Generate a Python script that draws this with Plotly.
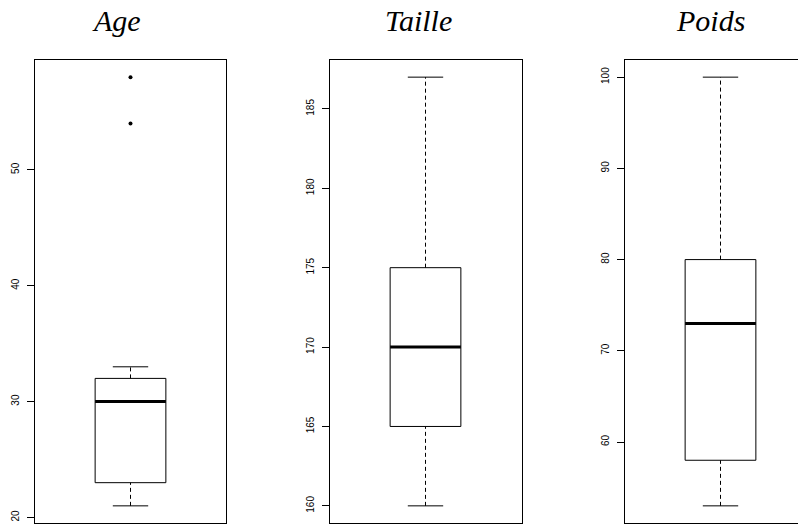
import plotly.graph_objects as go

# ---- data ----
variables = ["Age", "Taille", "Poids"]
lower_whisker = [21, 160, 53]
q1 = [23, 165, 58]
median = [30, 170, 73]
q3 = [32, 175, 80]
upper_whisker = [33, 187, 100]
outliers = [[54, 58], [], []]
tick_values = [[20, 30, 40, 50],
               [160, 165, 170, 175, 180, 185],
               [60, 70, 80, 90, 100]]

# ---- layout / style (page body adds an 8px margin, so the figure is 8px smaller) ----
OFF = 8
W, H = 806 - OFF, 526 - OFF
panel_left = [35 - OFF, 330 - OFF, 625 - OFF]
panel_right = [226 - OFF, 522 - OFF, 806 - OFF]
plot_top, plot_bottom = 60 - OFF, 523 - OFF
title_cx = [116 - OFF, 418 - OFF, 710 - OFF]
title_bottom = 39 - OFF
px_per_unit = 191 / 1.08
box_half = 0.2
staple_half = 0.1

fig = go.Figure()

for i, name in enumerate(variables):
    xa = "x" if i == 0 else f"x{i+1}"
    ya = "y" if i == 0 else f"y{i+1}"
    common = dict(xaxis=xa, yaxis=ya, showlegend=False, hoverinfo="skip")
    # box
    fig.add_trace(go.Scatter(
        x=[-box_half, box_half, box_half, -box_half, -box_half],
        y=[q1[i], q1[i], q3[i], q3[i], q1[i]],
        mode="lines", line=dict(color="black", width=1), **common))
    # median
    fig.add_trace(go.Scatter(
        x=[-box_half, box_half], y=[median[i], median[i]],
        mode="lines", line=dict(color="black", width=3), **common))
    # whiskers (dashed)
    fig.add_trace(go.Scatter(
        x=[0, 0, None, 0, 0],
        y=[lower_whisker[i], q1[i], None, q3[i], upper_whisker[i]],
        mode="lines", line=dict(color="black", width=1, dash="4px,3px"), **common))
    # staples
    fig.add_trace(go.Scatter(
        x=[-staple_half, staple_half, None, -staple_half, staple_half],
        y=[lower_whisker[i], lower_whisker[i], None, upper_whisker[i], upper_whisker[i]],
        mode="lines", line=dict(color="black", width=1), **common))
    # outliers
    if outliers[i]:
        fig.add_trace(go.Scatter(
            x=[0] * len(outliers[i]), y=outliers[i],
            mode="markers", marker=dict(color="black", size=4), **common))

    lo = min([lower_whisker[i]] + outliers[i])
    hi = max([upper_whisker[i]] + outliers[i])
    pad = 0.04 * (hi - lo)
    width_px = panel_right[i] - panel_left[i]
    xr = [-0.54, -0.54 + width_px / px_per_unit]

    xkey = "xaxis" if i == 0 else f"xaxis{i+1}"
    ykey = "yaxis" if i == 0 else f"yaxis{i+1}"
    fig.update_layout(**{
        xkey: dict(domain=[panel_left[i] / W, panel_right[i] / W], range=xr,
                   showgrid=False, zeroline=False, showticklabels=False, ticks="",
                   showline=True, linecolor="black", linewidth=1, mirror=True,
                   anchor=ya),
        ykey: dict(domain=[1 - plot_bottom / H, 1 - plot_top / H],
                   range=[lo - pad, hi + pad],
                   tickmode="array", tickvals=tick_values[i],
                   ticktext=[str(v) for v in tick_values[i]],
                   tickangle=-90, ticks="outside", ticklen=7, tickcolor="black",
                   tickwidth=1, ticklabelstandoff=4,
                   tickfont=dict(family="Liberation Sans, Arial", size=10, color="black"),
                   showgrid=False, zeroline=False,
                   showline=True, linecolor="black", linewidth=1,
                   mirror=(i < 2), anchor=xa),
    })
    fig.add_annotation(text=f"<i>{name}</i>", x=title_cx[i] / W, y=1 - title_bottom / H,
                       xref="paper", yref="paper", xanchor="center", yanchor="bottom",
                       showarrow=False,
                       font=dict(family="Liberation Serif, Times New Roman", size=30,
                                 color="black"))

fig.update_layout(width=W, height=H, margin=dict(l=0, r=0, t=0, b=0),
                  plot_bgcolor="white", paper_bgcolor="white")

fig.write_html("out.html")
